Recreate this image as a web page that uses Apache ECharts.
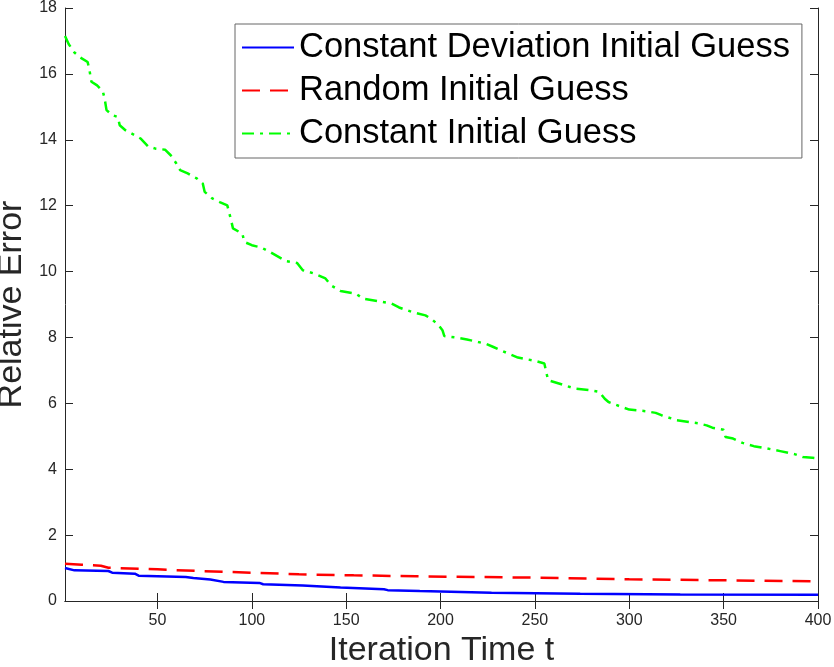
<!DOCTYPE html>
<html lang="en">
<head>
    <meta charset="UTF-8">
    <title>Relative Error vs Iteration</title>
    <script src="https://cdn.jsdelivr.net/npm/echarts@6/dist/echarts.min.js"></script>
    <style>
        html, body { margin: 0; padding: 0; background: #fff; }
    </style>
</head>
<body>
    <div id="chart" style="width: 834px; height: 667px;"></div>
    <script>
        // values
        var seriesNames = ['Constant Deviation Initial Guess', 'Random Initial Guess', 'Constant Initial Guess'];

        var devIter = [1, 6, 24, 26, 38, 40, 65, 69, 78, 85, 104, 106, 127, 147, 170, 172, 189, 200, 227, 274, 327, 400];
        var devErr  = [1.00, 0.93, 0.91, 0.86, 0.83, 0.77, 0.73, 0.70, 0.65, 0.58, 0.55, 0.51, 0.47, 0.41, 0.355, 0.33, 0.30, 0.29, 0.25, 0.22, 0.20, 0.19];

        var randIter = [1, 10, 20, 24, 50, 72, 100, 125, 154, 187, 248, 300, 345, 400];
        var randErr  = [1.13, 1.10, 1.07, 1.01, 0.96, 0.91, 0.86, 0.81, 0.78, 0.75, 0.71, 0.66, 0.63, 0.60];

        var constIter = [1, 3, 6, 9, 13, 14, 15, 18, 21, 22, 23, 26, 29, 30, 33, 38, 41, 45, 49, 54,
            57, 60, 62, 66, 71, 74, 75, 79, 83, 87, 89, 90, 95, 96, 100, 105, 110, 118, 124, 127,
            133, 139, 142, 147, 155, 159, 169, 174, 178, 185, 192, 195, 199, 201, 202, 208, 214, 220, 224, 228,
            231, 236, 241, 250, 255, 256, 257, 264, 271, 279, 284, 287, 289, 295, 300, 309, 314, 317, 325, 332,
            337, 341, 344, 350, 351, 355, 360, 366, 373, 380, 388, 392, 397, 400];
        var constErr = [17.15, 16.90, 16.65, 16.50, 16.36, 16.10, 15.76, 15.65, 15.48, 15.25, 14.90, 14.75, 14.69, 14.44, 14.29, 14.14, 14.04, 13.80, 13.73, 13.70,
            13.53, 13.28, 13.08, 12.98, 12.82, 12.67, 12.42, 12.22, 12.11, 12.01, 11.56, 11.31, 11.15, 10.90, 10.80, 10.73, 10.58, 10.32, 10.26, 10.04,
            9.94, 9.79, 9.58, 9.41, 9.33, 9.18, 9.08, 9.03, 8.91, 8.77, 8.67, 8.57, 8.37, 8.22, 8.04, 8.00, 7.94, 7.86, 7.81, 7.71,
            7.63, 7.51, 7.39, 7.29, 7.21, 6.95, 6.70, 6.58, 6.45, 6.40, 6.35, 6.14, 6.04, 5.91, 5.81, 5.76, 5.71, 5.64, 5.49, 5.43,
            5.39, 5.33, 5.26, 5.20, 4.98, 4.93, 4.80, 4.70, 4.63, 4.55, 4.45, 4.37, 4.35, 4.33];

        var xTicks = [50, 100, 150, 200, 250, 300, 350, 400];

        function pairs(xs, ys) {
            return xs.map(function (x, i) { return [x, ys[i]]; });
        }

        var font = "'Liberation Sans', Arial, Helvetica, sans-serif";
        var ink = '#262626';

        var chart = echarts.init(document.getElementById('chart'));

        var option = {
            animation: false,
            backgroundColor: '#fff',
            textStyle: { fontFamily: font },
            grid: { left: 65, right: 16, top: 8, bottom: 66, containLabel: false, outerBoundsMode: 'none' },
            legend: {
                orient: 'vertical',
                left: 235,
                top: 24,
                padding: [2, 12, 3, 6],
                itemGap: 0,
                itemWidth: 52,
                itemHeight: 14,
                selectedMode: false,
                backgroundColor: '#fff',
                borderColor: '#666',
                borderWidth: 1,
                itemStyle: { opacity: 0 },
                textStyle: { fontFamily: font, fontSize: 34.5, color: '#000', lineHeight: 43 },
                data: seriesNames
            },
            xAxis: [{
                type: 'value',
                min: 1,
                max: 400,
                name: 'Iteration Time t',
                nameLocation: 'middle',
                nameGap: 31,
                nameTextStyle: { fontFamily: font, fontSize: 34, color: ink },
                axisLine: { lineStyle: { color: ink, width: 1 } },
                axisTick: { inside: true, length: 8, customValues: xTicks, lineStyle: { color: ink } },
                axisLabel: { customValues: xTicks, margin: 12, fontSize: 16, color: ink, fontFamily: font },
                splitLine: { show: false }
            }, {
                type: 'value',
                position: 'top',
                min: 1,
                max: 400,
                axisLine: { lineStyle: { color: ink, width: 1 } },
                axisTick: { inside: true, length: 8, customValues: xTicks, lineStyle: { color: ink } },
                axisLabel: { show: false },
                splitLine: { show: false }
            }],
            yAxis: [{
                type: 'value',
                min: 0,
                max: 18,
                interval: 2,
                name: 'Relative Error',
                nameLocation: 'middle',
                nameGap: 34,
                nameTextStyle: { fontFamily: font, fontSize: 34, color: ink },
                axisLine: { show: true, lineStyle: { color: ink, width: 1 } },
                axisTick: { show: true, inside: true, length: 8, lineStyle: { color: ink } },
                axisLabel: { margin: 8, fontSize: 16, color: ink, fontFamily: font },
                splitLine: { show: false }
            }, {
                type: 'value',
                position: 'right',
                min: 0,
                max: 18,
                interval: 2,
                axisLine: { show: true, lineStyle: { color: ink, width: 1 } },
                axisTick: { show: true, inside: true, length: 8, lineStyle: { color: ink } },
                axisLabel: { show: false },
                splitLine: { show: false }
            }],
            series: [{
                name: seriesNames[0],
                type: 'line',
                symbol: 'none',
                data: pairs(devIter, devErr),
                lineStyle: { color: '#0000ff', width: 2.5, type: 'solid' },
                itemStyle: { color: '#0000ff' }
            }, {
                name: seriesNames[1],
                type: 'line',
                symbol: 'none',
                data: pairs(randIter, randErr),
                lineStyle: { color: '#ff0000', width: 2.5, type: [18, 10] },
                itemStyle: { color: '#ff0000' }
            }, {
                name: seriesNames[2],
                type: 'line',
                symbol: 'none',
                data: pairs(constIter, constErr),
                lineStyle: { color: '#00ff00', width: 2.5, type: [12, 6, 3, 6] },
                itemStyle: { color: '#00ff00' }
            }]
        };

        chart.setOption(option);
    </script>
</body>
</html>
